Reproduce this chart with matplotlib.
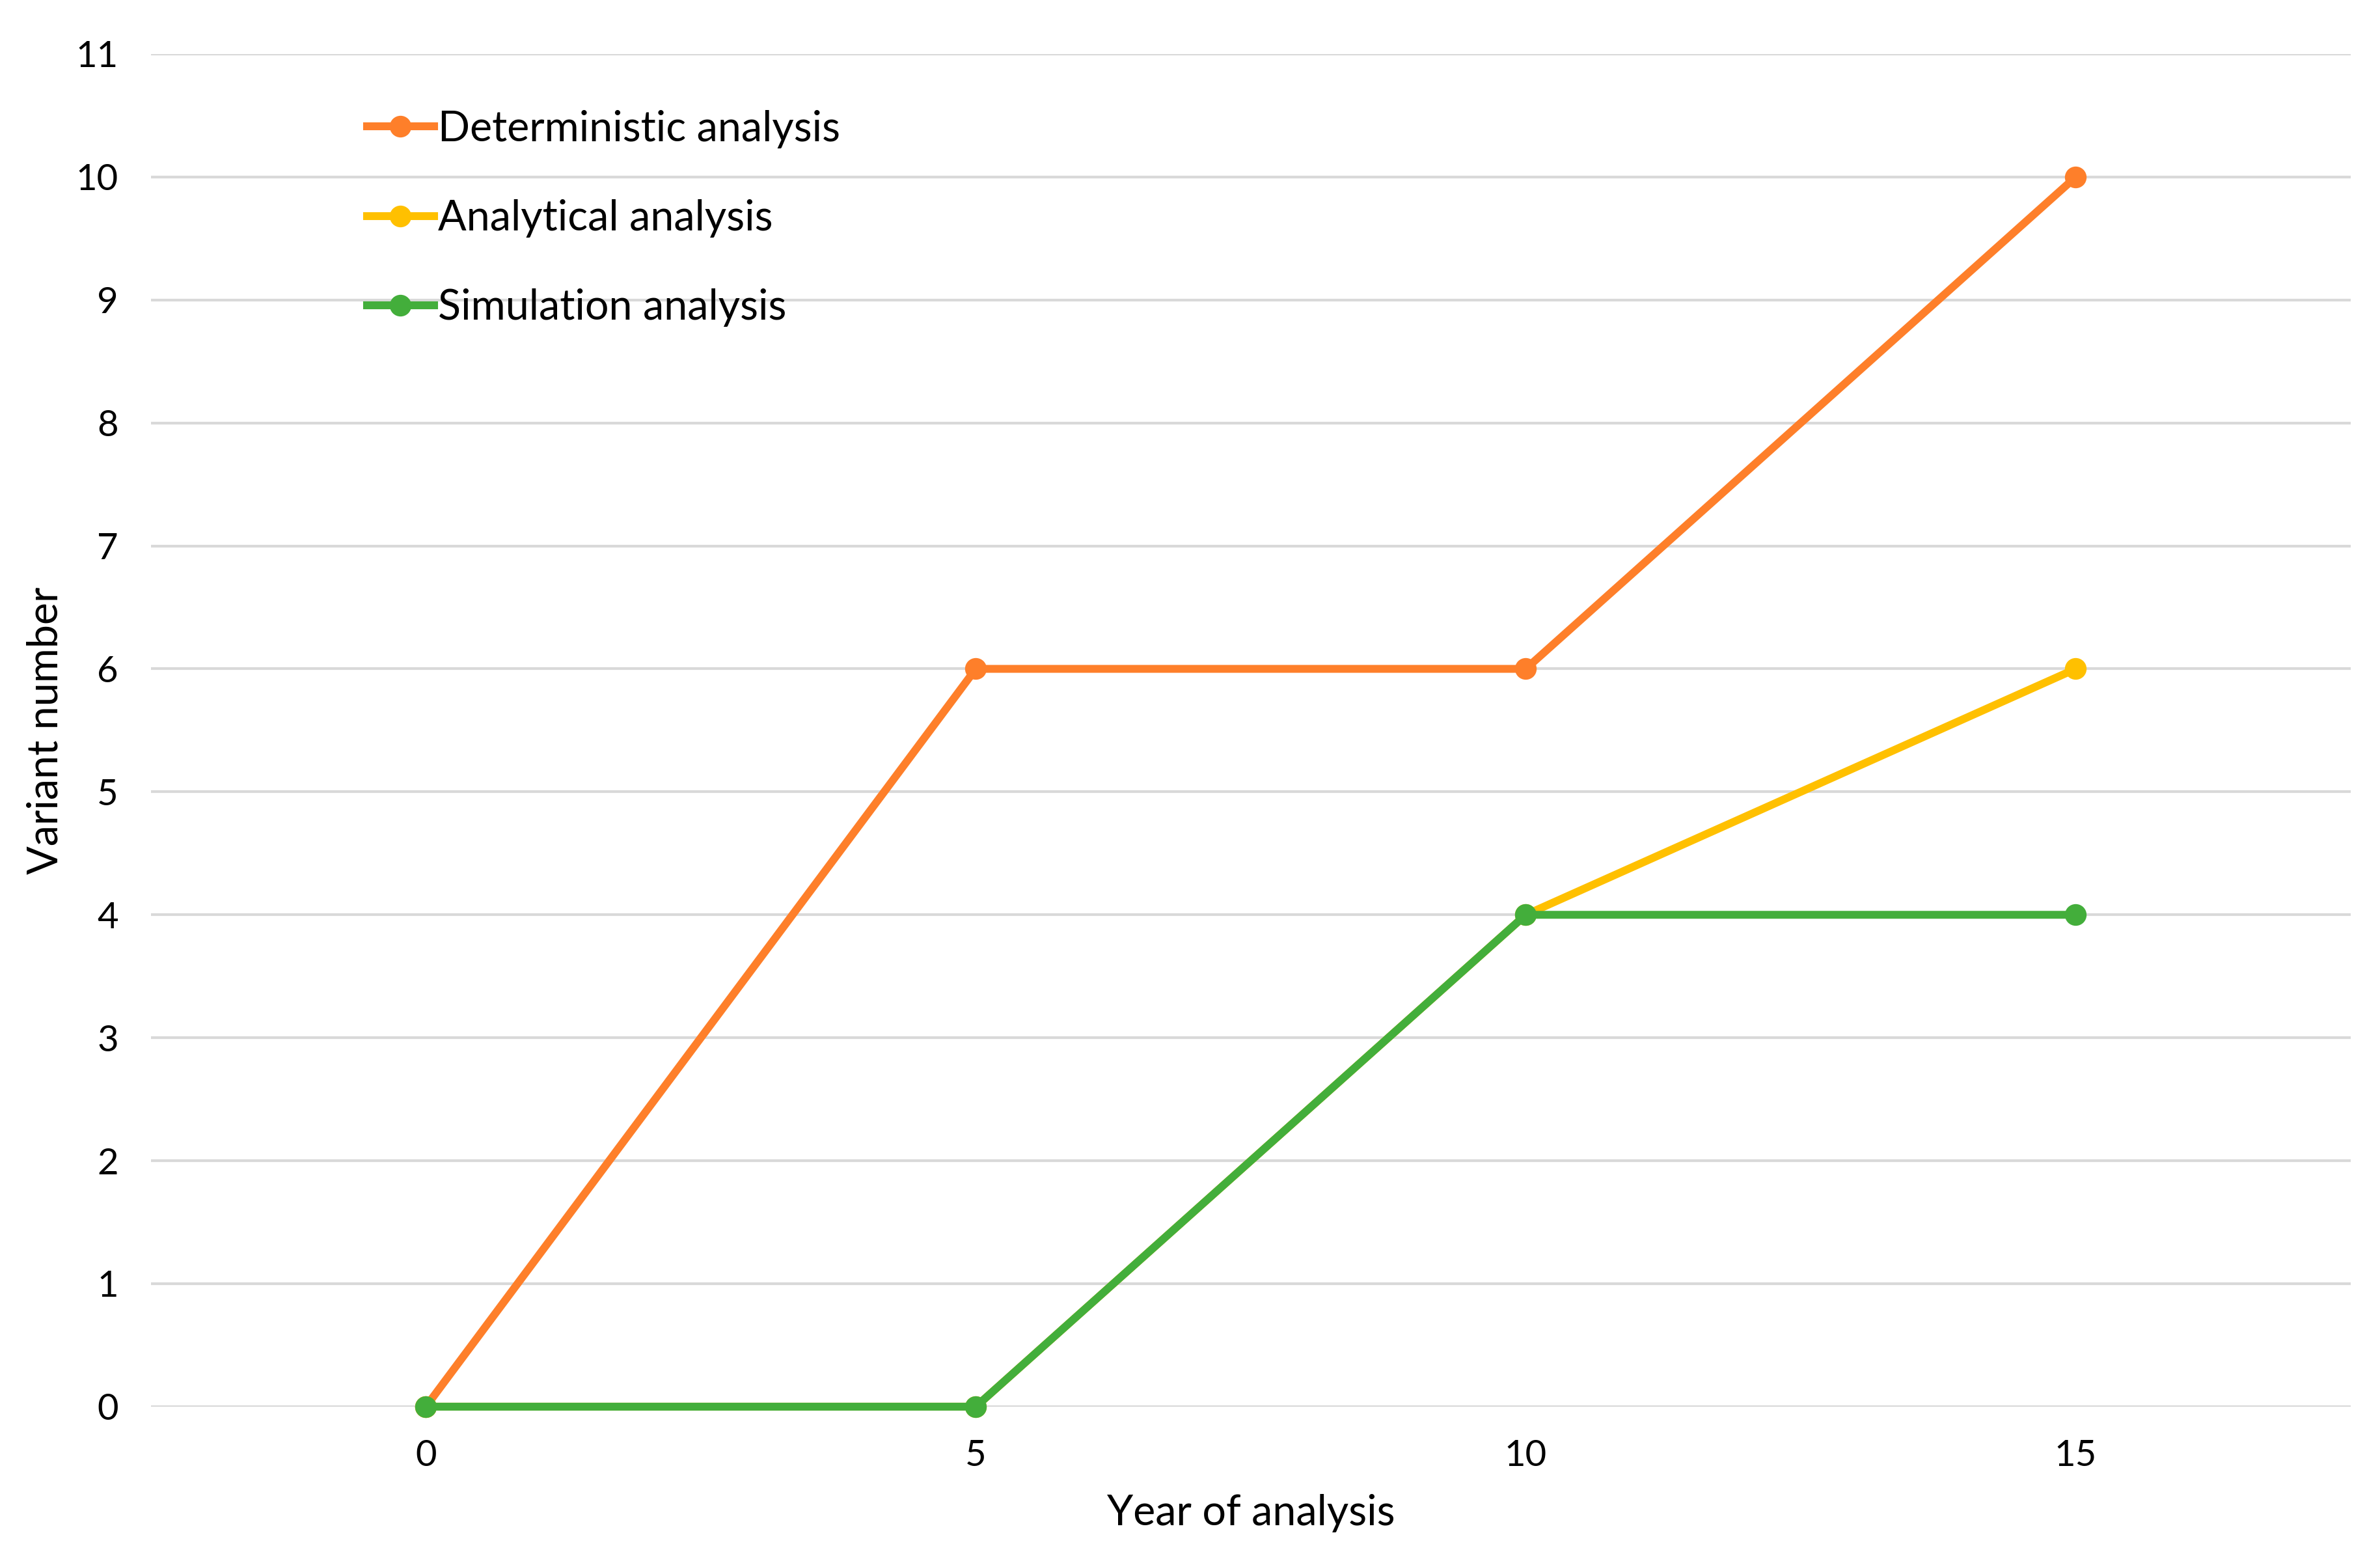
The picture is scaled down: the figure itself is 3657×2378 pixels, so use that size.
import matplotlib.pyplot as plt

plt.rcParams['font.family'] = ['Lato', 'DejaVu Sans']

# data
years = [0, 5, 10, 15]
deterministic = [0, 6, 6, 10]
analytical = [0, 0, 4, 6]
simulation = [0, 0, 4, 4]

fig = plt.figure(figsize=(3657 / 300, 2378 / 300), dpi=300)
ax = fig.add_axes([0.0634, 0.0913, 0.9243, 0.8738])

ax.plot(years, deterministic, color='#FE7F2A', lw=2.9, marker='o', ms=7,
        label='Deterministic analysis', clip_on=False, zorder=3)
ax.plot(years, analytical, color='#FFC000', lw=2.9, marker='o', ms=7,
        label='Analytical analysis', clip_on=False, zorder=4)
ax.plot(years, simulation, color='#43AE3B', lw=2.9, marker='o', ms=7,
        label='Simulation analysis', clip_on=False, zorder=5)

ax.set_xlim(-2.5, 17.5)
ax.set_ylim(0, 11)
ax.set_xticks(years)
ax.set_yticks(range(0, 12))
ax.tick_params(length=0, labelsize=13.5, pad=12)
ax.grid(axis='y', color='#D9D9D9', lw=1)
ax.set_axisbelow(True)
for s in ax.spines.values():
    s.set_visible(False)

ax.set_xlabel('Year of analysis', fontsize=15.5, labelpad=8)
ax.set_ylabel('Variant number', fontsize=15.5, labelpad=4)

ax.legend(loc='upper left', bbox_to_anchor=(0.0905, 0.971), frameon=False,
          fontsize=15.5, handlelength=1.6, handletextpad=0.1,
          labelspacing=1.21, borderaxespad=0)

fig.savefig('out.png', dpi=300)
